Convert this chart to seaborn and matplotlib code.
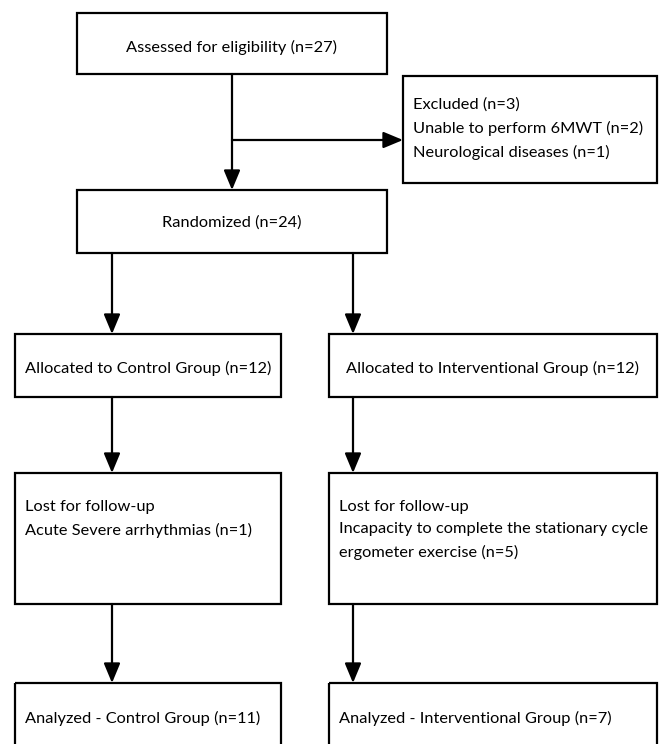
import seaborn as sns
import matplotlib.pyplot as plt
from matplotlib.patches import Rectangle

# flow counts
n_assessed = 27
n_randomized = 24
excl_reasons = ["Unable to perform 6MWT", "Neurological diseases"]
excl_counts = [2, 1]
groups = ["Control", "Interventional"]
n_allocated = [12, 12]
lost_reasons = ["Acute Severe arrhythmias",
                "Incapacity to complete the stationary cycle\nergometer exercise"]
n_lost = [1, 5]
n_analyzed = [11, 7]

sns.set_theme(style="white")
plt.rcParams['font.family'] = ['Lato', 'DejaVu Sans']
plt.rcParams['text.color'] = 'black'

fig = plt.figure(figsize=(6.64, 7.44), dpi=100)
ax = fig.add_axes([0, 0, 1, 1])
ax.set_xlim(0, 664)
ax.set_ylim(744, 0)
ax.axis('off')

FS = 11.8
LW = 1.6
LS = 1.75

def box(x0, y0, x1, y1):
    ax.add_patch(Rectangle((x0, y0), x1 - x0, y1 - y0, fill=False,
                           edgecolor='black', lw=LW))

def arrow(x0, y0, x1, y1):
    ax.annotate('', xy=(x1, y1), xytext=(x0, y0),
                arrowprops=dict(arrowstyle='-|>,head_length=0.6,head_width=0.25',
                                color='black', lw=LW,
                                mutation_scale=20, shrinkA=0, shrinkB=0))

# top
box(77, 13, 387, 74)
ax.text(232, 47, f"Assessed for eligibility (n={n_assessed})", ha='center',
        va='center', fontsize=FS)

box(403, 76, 657, 183)
excl_text = [f"Excluded (n={sum(excl_counts)})"] + \
    [f"{r} (n={c})" for r, c in zip(excl_reasons, excl_counts)]
ax.text(413, 129, "\n".join(excl_text), ha='left', va='center',
        fontsize=FS, linespacing=LS)

ax.plot([232, 232], [74, 140], color='black', lw=LW)
arrow(232, 140, 403, 140)
arrow(232, 140, 232, 190)

box(77, 190, 387, 253)
ax.text(232, 223, f"Randomized (n={n_randomized})", ha='center',
        va='center', fontsize=FS)

cols = [(15, 281, 112), (329, 657, 353)]
for i, (x0, x1, xa) in enumerate(cols):
    arrow(xa, 253, xa, 334)
    box(x0, 334, x1, 397)
    ax.text((x0 + x1) / 2, 368, f"Allocated to {groups[i]} Group (n={n_allocated[i]})",
            ha='center', va='center', fontsize=FS)

    arrow(xa, 397, xa, 473)
    box(x0, 473, x1, 604)
    ax.text(x0 + 10, 500, f"Lost for follow-up\n{lost_reasons[i]} (n={n_lost[i]})",
            ha='left', va='top', fontsize=FS, linespacing=LS)

    arrow(xa, 604, xa, 683)
    box(x0, 683, x1, 770)
    ax.text(x0 + 10, 718, f"Analyzed - {groups[i]} Group (n={n_analyzed[i]})",
            ha='left', va='center', fontsize=FS)

plt.savefig('out.png', dpi=100)
